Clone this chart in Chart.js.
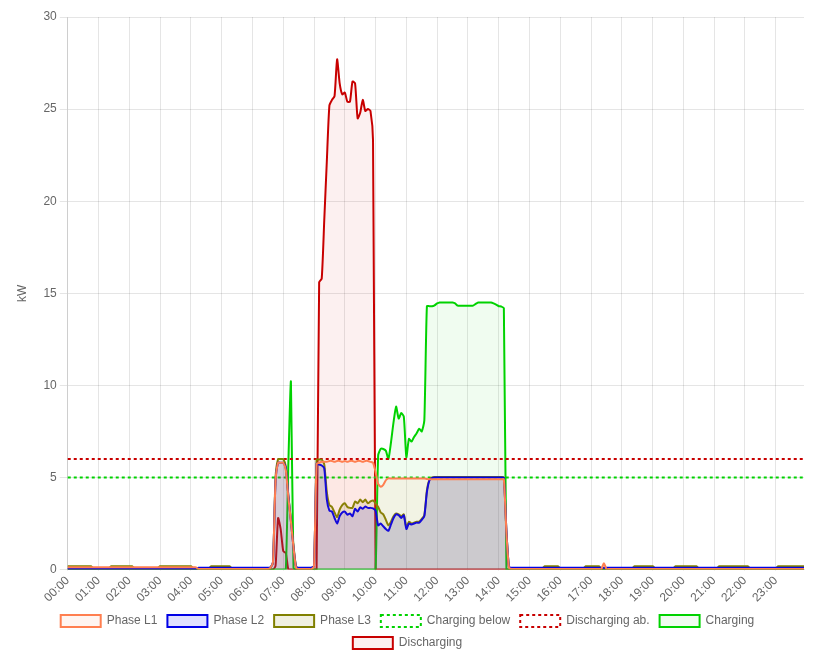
<!DOCTYPE html>
<html>
<head>
<meta charset="utf-8">
<script src="https://cdn.jsdelivr.net/npm/chart.js@4.4.1/dist/chart.umd.min.js"></script>
<style>
  html, body { margin: 0; padding: 0; background: #fff; }
  #wrap { position: relative; width: 814px; height: 665px; }
</style>
</head>
<body>
<div id="wrap"><canvas id="powerChart"></canvas></div>
<script>
// hour tick labels, every hour holds 12 five-minute slots
const hourLabels = ['00:00', '01:00', '02:00', '03:00', '04:00', '05:00', '06:00', '07:00',
  '08:00', '09:00', '10:00', '11:00', '12:00', '13:00', '14:00', '15:00',
  '16:00', '17:00', '18:00', '19:00', '20:00', '21:00', '22:00', '23:00'];

// kW per 5 minutes, one row per hour
const phaseL1 = [
  0.12, 0.12, 0.12, 0.12, 0.12, 0.12, 0.12, 0.12, 0.12, 0.12, 0.12, 0.12,
  0.12, 0.12, 0.12, 0.12, 0.12, 0.12, 0.12, 0.12, 0.12, 0.12, 0.12, 0.12,
  0.12, 0.12, 0.12, 0.12, 0.12, 0.12, 0.12, 0.12, 0.12, 0.12, 0.12, 0.12,
  0.12, 0.12, 0.12, 0.12, 0.12, 0.12, 0.12, 0.12, 0.12, 0.12, 0.12, 0.12,
  0.12, 0.12, 0.12, 0.03, 0.03, 0.03, 0.03, 0.03, 0.03, 0.03, 0.03, 0.03,
  0.03, 0.03, 0.03, 0.03, 0.03, 0.03, 0.03, 0.03, 0.03, 0.03, 0.03, 0.03,
  0.03, 0.03, 0.03, 0.03, 0.03, 0.03, 0.03, 0.1, 0.4, 4.8, 5.8, 5.8,
  5.8, 5.4, 3.9, 2.6, 1.2, 0.1, 0.03, 0.03, 0.03, 0.03, 0.03, 0.03,
  0.2, 5.75, 5.8, 5.85, 5.85, 5.85, 5.9, 5.9, 5.85, 5.9, 5.9, 5.85,
  5.9, 5.85, 5.9, 5.9, 5.85, 5.9, 5.9, 5.85, 5.9, 5.9, 5.85, 5.8,
  5.3, 4.65, 4.5, 4.6, 4.85, 4.95, 4.95, 4.95, 4.95, 4.95, 4.95, 4.95,
  4.95, 4.95, 4.95, 4.95, 4.95, 4.95, 4.95, 4.95, 4.92, 4.9, 4.9, 4.9,
  4.9, 4.9, 4.9, 4.9, 4.9, 4.9, 4.9, 4.9, 4.9, 4.9, 4.9, 4.9,
  4.9, 4.9, 4.9, 4.9, 4.9, 4.9, 4.9, 4.9, 4.9, 4.9, 4.9, 4.9,
  4.9, 4.9, 4.9, 2.0, 0.1, 0.03, 0.03, 0.03, 0.03, 0.03, 0.03, 0.03,
  0.03, 0.03, 0.03, 0.03, 0.03, 0.03, 0.03, 0.03, 0.03, 0.03, 0.03, 0.03,
  0.03, 0.03, 0.03, 0.03, 0.03, 0.03, 0.03, 0.03, 0.03, 0.03, 0.03, 0.03,
  0.03, 0.03, 0.03, 0.03, 0.03, 0.35, 0.03, 0.03, 0.03, 0.03, 0.03, 0.03,
  0.03, 0.03, 0.03, 0.03, 0.03, 0.03, 0.03, 0.03, 0.03, 0.03, 0.03, 0.03,
  0.03, 0.03, 0.03, 0.03, 0.03, 0.03, 0.03, 0.03, 0.03, 0.03, 0.03, 0.03,
  0.03, 0.03, 0.03, 0.03, 0.03, 0.03, 0.03, 0.03, 0.03, 0.03, 0.03, 0.03,
  0.03, 0.03, 0.03, 0.03, 0.03, 0.03, 0.03, 0.03, 0.03, 0.03, 0.03, 0.03,
  0.03, 0.03, 0.03, 0.03, 0.03, 0.03, 0.03, 0.03, 0.03, 0.03, 0.03, 0.03,
  0.03, 0.03, 0.03, 0.03, 0.03, 0.03, 0.03, 0.03, 0.03, 0.03, 0.03, 0.03
];

const phaseL2 = [
  0.05, 0.05, 0.05, 0.05, 0.05, 0.05, 0.05, 0.05, 0.05, 0.05, 0.05, 0.05,
  0.05, 0.05, 0.05, 0.05, 0.05, 0.05, 0.05, 0.05, 0.05, 0.05, 0.05, 0.05,
  0.05, 0.05, 0.05, 0.05, 0.05, 0.05, 0.05, 0.05, 0.05, 0.05, 0.05, 0.05,
  0.05, 0.05, 0.05, 0.05, 0.05, 0.05, 0.05, 0.05, 0.05, 0.05, 0.05, 0.05,
  0.05, 0.05, 0.05, 0.1, 0.1, 0.1, 0.1, 0.1, 0.1, 0.1, 0.1, 0.1,
  0.1, 0.1, 0.1, 0.1, 0.1, 0.1, 0.1, 0.1, 0.1, 0.1, 0.1, 0.1,
  0.1, 0.1, 0.1, 0.1, 0.1, 0.1, 0.1, 0.12, 0.4, 4.8, 5.8, 5.8,
  5.8, 5.5, 4.0, 2.6, 1.2, 0.15, 0.1, 0.1, 0.1, 0.1, 0.1, 0.1,
  0.2, 5.75, 5.7, 5.65, 5.5, 3.8, 3.2, 3.15, 2.8, 2.5, 2.9, 3.1,
  3.15, 2.98, 3.05, 2.9, 3.3, 3.15, 3.38, 3.3, 3.43, 3.35, 3.35, 3.32,
  3.2, 2.4, 2.5, 2.35, 2.2, 2.1, 2.45, 2.8, 3.0, 2.95, 2.8, 2.95,
  2.2, 2.5, 2.45, 2.5, 2.55, 2.55, 2.7, 2.9, 4.2, 4.85, 4.97, 5.0,
  5.0, 5.0, 5.0, 5.0, 5.0, 5.0, 5.0, 5.0, 5.0, 5.0, 5.0, 5.0,
  5.0, 5.0, 5.0, 5.0, 5.0, 5.0, 5.0, 5.0, 5.0, 5.0, 5.0, 5.0,
  5.0, 5.0, 4.98, 2.1, 0.15, 0.1, 0.1, 0.1, 0.1, 0.1, 0.1, 0.1,
  0.1, 0.1, 0.1, 0.1, 0.1, 0.1, 0.1, 0.1, 0.1, 0.1, 0.1, 0.1,
  0.1, 0.1, 0.1, 0.1, 0.1, 0.1, 0.1, 0.1, 0.1, 0.1, 0.1, 0.1,
  0.1, 0.1, 0.1, 0.1, 0.1, 0.1, 0.1, 0.1, 0.1, 0.1, 0.1, 0.1,
  0.1, 0.1, 0.1, 0.1, 0.1, 0.1, 0.1, 0.1, 0.1, 0.1, 0.1, 0.1,
  0.1, 0.1, 0.1, 0.1, 0.1, 0.1, 0.1, 0.1, 0.1, 0.1, 0.1, 0.1,
  0.1, 0.1, 0.1, 0.1, 0.1, 0.1, 0.1, 0.1, 0.1, 0.1, 0.1, 0.1,
  0.1, 0.1, 0.1, 0.1, 0.1, 0.1, 0.1, 0.1, 0.1, 0.1, 0.1, 0.1,
  0.1, 0.1, 0.1, 0.1, 0.1, 0.1, 0.1, 0.1, 0.1, 0.1, 0.1, 0.1,
  0.1, 0.1, 0.1, 0.1, 0.1, 0.1, 0.1, 0.1, 0.1, 0.1, 0.1, 0.1
];

const phaseL3 = [
  0.18, 0.18, 0.18, 0.18, 0.18, 0.18, 0.18, 0.18, 0.18, 0.18, 0.08, 0.08,
  0.08, 0.08, 0.08, 0.08, 0.08, 0.18, 0.18, 0.18, 0.18, 0.18, 0.18, 0.18,
  0.18, 0.18, 0.08, 0.08, 0.08, 0.08, 0.08, 0.08, 0.08, 0.08, 0.08, 0.08,
  0.18, 0.18, 0.18, 0.18, 0.18, 0.18, 0.18, 0.18, 0.18, 0.18, 0.18, 0.18,
  0.18, 0.08, 0.08, 0.08, 0.08, 0.08, 0.08, 0.08, 0.18, 0.18, 0.18, 0.18,
  0.18, 0.18, 0.18, 0.18, 0.08, 0.08, 0.08, 0.08, 0.08, 0.08, 0.08, 0.08,
  0.08, 0.08, 0.08, 0.08, 0.08, 0.08, 0.08, 0.1, 0.4, 5.0, 6.0, 6.0,
  6.0, 5.6, 4.0, 2.7, 1.3, 0.15, 0.08, 0.08, 0.08, 0.08, 0.08, 0.08,
  0.2, 5.97, 5.97, 5.97, 5.7, 4.2, 3.5, 3.4, 3.1, 2.85, 3.25, 3.5,
  3.6, 3.4, 3.35, 3.35, 3.7, 3.6, 3.8, 3.65, 3.8, 3.6, 3.7, 3.75,
  3.6, 3.4, 3.1, 3.0, 2.7, 2.4, 2.6, 2.9, 3.05, 3.0, 2.9, 3.0,
  2.3, 2.6, 2.5, 2.55, 2.6, 2.6, 2.75, 2.95, 4.3, 4.9, 5.0, 5.02,
  5.02, 5.02, 5.02, 5.02, 5.02, 5.02, 5.02, 5.02, 5.02, 5.02, 5.02, 5.02,
  5.02, 5.02, 5.02, 5.02, 5.02, 5.02, 5.02, 5.02, 5.02, 5.02, 5.02, 5.02,
  5.02, 5.02, 5.0, 2.1, 0.12, 0.08, 0.08, 0.08, 0.08, 0.08, 0.08, 0.08,
  0.08, 0.08, 0.08, 0.08, 0.08, 0.08, 0.18, 0.18, 0.18, 0.18, 0.18, 0.18,
  0.08, 0.08, 0.08, 0.08, 0.08, 0.08, 0.08, 0.08, 0.08, 0.08, 0.18, 0.18,
  0.18, 0.18, 0.18, 0.18, 0.08, 0.08, 0.08, 0.08, 0.08, 0.08, 0.08, 0.08,
  0.08, 0.08, 0.08, 0.08, 0.08, 0.18, 0.18, 0.18, 0.18, 0.18, 0.18, 0.18,
  0.18, 0.08, 0.08, 0.08, 0.08, 0.08, 0.08, 0.08, 0.08, 0.18, 0.18, 0.18,
  0.18, 0.18, 0.18, 0.18, 0.18, 0.18, 0.08, 0.08, 0.08, 0.08, 0.08, 0.08,
  0.08, 0.08, 0.18, 0.18, 0.18, 0.18, 0.18, 0.18, 0.18, 0.18, 0.18, 0.18,
  0.18, 0.18, 0.08, 0.08, 0.08, 0.08, 0.08, 0.08, 0.08, 0.08, 0.08, 0.08,
  0.08, 0.18, 0.18, 0.18, 0.18, 0.18, 0.18, 0.18, 0.18, 0.18, 0.18, 0.18
];

const charging = [
  0, 0, 0, 0, 0, 0, 0, 0, 0, 0, 0, 0,
  0, 0, 0, 0, 0, 0, 0, 0, 0, 0, 0, 0,
  0, 0, 0, 0, 0, 0, 0, 0, 0, 0, 0, 0,
  0, 0, 0, 0, 0, 0, 0, 0, 0, 0, 0, 0,
  0, 0, 0, 0, 0, 0, 0, 0, 0, 0, 0, 0,
  0, 0, 0, 0, 0, 0, 0, 0, 0, 0, 0, 0,
  0, 0, 0, 0, 0, 0, 0, 0, 0, 0, 0, 0,
  0, 0, 5.8, 10.2, 0.1, 0, 0, 0, 0, 0, 0, 0,
  0, 0, 0, 0, 0, 0, 0, 0, 0, 0, 0, 0,
  0, 0, 0, 0, 0, 0, 0, 0, 0, 0, 0, 0,
  0, 6.2, 6.55, 6.55, 6.45, 6.0, 6.9, 8.0, 8.85, 8.2, 8.5, 8.3,
  6.1, 7.1, 6.95, 7.2, 7.4, 7.65, 7.5, 8.1, 14.3, 14.3, 14.3, 14.35,
  14.45, 14.5, 14.5, 14.5, 14.5, 14.5, 14.5, 14.45, 14.33, 14.32, 14.32, 14.32,
  14.32, 14.32, 14.33, 14.42, 14.5, 14.5, 14.5, 14.5, 14.5, 14.5, 14.45, 14.38,
  14.3, 14.28, 14.2, 0, 0, 0, 0, 0, 0, 0, 0, 0,
  0, 0, 0, 0, 0, 0, 0, 0, 0, 0, 0, 0,
  0, 0, 0, 0, 0, 0, 0, 0, 0, 0, 0, 0,
  0, 0, 0, 0, 0, 0, 0, 0, 0, 0, 0, 0,
  0, 0, 0, 0, 0, 0, 0, 0, 0, 0, 0, 0,
  0, 0, 0, 0, 0, 0, 0, 0, 0, 0, 0, 0,
  0, 0, 0, 0, 0, 0, 0, 0, 0, 0, 0, 0,
  0, 0, 0, 0, 0, 0, 0, 0, 0, 0, 0, 0,
  0, 0, 0, 0, 0, 0, 0, 0, 0, 0, 0, 0,
  0, 0, 0, 0, 0, 0, 0, 0, 0, 0, 0, 0
];

const discharging = [
  0, 0, 0, 0, 0, 0, 0, 0, 0, 0, 0, 0,
  0, 0, 0, 0, 0, 0, 0, 0, 0, 0, 0, 0,
  0, 0, 0, 0, 0, 0, 0, 0, 0, 0, 0, 0,
  0, 0, 0, 0, 0, 0, 0, 0, 0, 0, 0, 0,
  0, 0, 0, 0, 0, 0, 0, 0, 0, 0, 0, 0,
  0, 0, 0, 0, 0, 0, 0, 0, 0, 0, 0, 0,
  0, 0, 0, 0, 0, 0, 0, 0, 0, 0.2, 2.8, 2.2,
  1.0, 0.9, 0, 0, 0, 0, 0, 0, 0, 0, 0, 0,
  0, 0, 15.6, 15.8, 19.0, 22.2, 25.2, 25.5, 25.7, 27.7, 26.4, 25.8,
  25.9, 25.4, 25.4, 26.5, 26.4, 24.5, 24.8, 25.5, 24.9, 25.0, 24.9, 23.3,
  0, 0, 0, 0, 0, 0, 0, 0, 0, 0, 0, 0,
  0, 0, 0, 0, 0, 0, 0, 0, 0, 0, 0, 0,
  0, 0, 0, 0, 0, 0, 0, 0, 0, 0, 0, 0,
  0, 0, 0, 0, 0, 0, 0, 0, 0, 0, 0, 0,
  0, 0, 0, 0, 0, 0, 0, 0, 0, 0, 0, 0,
  0, 0, 0, 0, 0, 0, 0, 0, 0, 0, 0, 0,
  0, 0, 0, 0, 0, 0, 0, 0, 0, 0, 0, 0,
  0, 0, 0, 0, 0, 0, 0, 0, 0, 0, 0, 0,
  0, 0, 0, 0, 0, 0, 0, 0, 0, 0, 0, 0,
  0, 0, 0, 0, 0, 0, 0, 0, 0, 0, 0, 0,
  0, 0, 0, 0, 0, 0, 0, 0, 0, 0, 0, 0,
  0, 0, 0, 0, 0, 0, 0, 0, 0, 0, 0, 0,
  0, 0, 0, 0, 0, 0, 0, 0, 0, 0, 0, 0,
  0, 0, 0, 0, 0, 0, 0, 0, 0, 0, 0, 0
];

// thresholds (kW)
const chargeBelowLimit = 5;
const dischargeAboveLimit = 6;

// five-minute slot labels built from the hour labels
const slotLabels = [];
hourLabels.forEach(h => {
  for (let m = 0; m < 60; m += 5) slotLabels.push(h.slice(0, 3) + String(m).padStart(2, '0'));
});
const firstSlot = slotLabels[0];
const lastSlot = slotLabels[slotLabels.length - 1];

function area(label, data, color, fillColor) {
  return {
    label, data,
    borderColor: color, backgroundColor: fillColor,
    borderWidth: 2, pointRadius: 0, pointHoverRadius: 0,
    fill: 'origin', tension: 0.2
  };
}

function limitLine(label, value, color) {
  return {
    label,
    data: [{ x: firstSlot, y: value }, { x: lastSlot, y: value }],
    borderColor: color, backgroundColor: 'rgba(255,255,255,0)',
    borderWidth: 2, borderDash: [3, 3], pointRadius: 0, fill: false
  };
}

new Chart(document.getElementById('powerChart'), {
  type: 'line',
  data: {
    labels: slotLabels,
    datasets: [
      area('Phase L1', phaseL1, 'rgb(255,127,80)', 'rgba(255,127,80,0.08)'),
      area('Phase L2', phaseL2, 'rgb(0,0,230)', 'rgba(0,0,255,0.12)'),
      area('Phase L3', phaseL3, 'rgb(128,128,0)', 'rgba(128,128,0,0.12)'),
      limitLine('Charging below', chargeBelowLimit, 'rgb(0,210,0)'),
      limitLine('Discharging ab.', dischargeAboveLimit, 'rgb(200,0,0)'),
      area('Charging', charging, 'rgb(0,210,0)', 'rgba(0,210,0,0.06)'),
      area('Discharging', discharging, 'rgb(200,0,0)', 'rgba(200,0,0,0.06)')
    ]
  },
  options: {
    responsive: true, maintainAspectRatio: false, animation: false,
    layout: { padding: { top: 17, right: 10, left: 11, bottom: 6 } },
    plugins: {
      legend: {
        position: 'bottom',
        labels: { color: '#666', font: { size: 12 }, boxWidth: 40, padding: 10 }
      },
      tooltip: { enabled: false }
    },
    scales: {
      x: {
        grid: { color: 'rgba(0,0,0,0.1)', tickLength: 1 },
        ticks: {
          color: '#666', autoSkip: false, minRotation: 45, maxRotation: 45,
          callback: (val, idx) => idx % 12 === 0 ? hourLabels[idx / 12] : null
        },
        afterFit: (scale) => { scale.height -= 3; }
      },
      y: {
        min: 0, max: 30,
        grid: { color: 'rgba(0,0,0,0.1)' },
        ticks: { stepSize: 5, color: '#666' },
        title: { display: true, text: 'kW', color: '#666', padding: { top: 4, bottom: 11 } }
      }
    }
  }
});
</script>
</body>
</html>
